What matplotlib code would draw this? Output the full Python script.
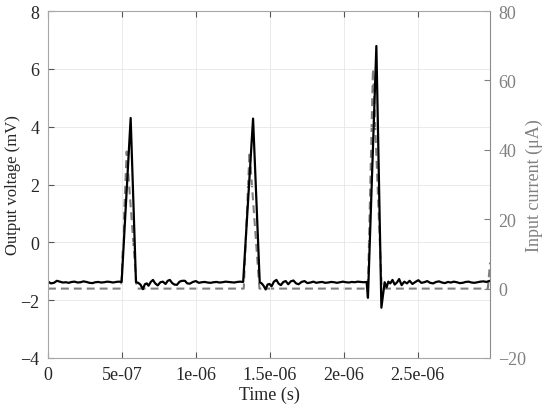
import numpy as np
import matplotlib
matplotlib.use('Agg')
import matplotlib.pyplot as plt

plt.rcParams['font.family'] = ['Liberation Serif', 'DejaVu Serif']

# output voltage (black, left axis): time in ns, value in mV
volt_t_ns = [0, 20, 40, 60, 80, 100, 120, 140, 160, 180, 200, 220, 240, 260, 280,
             300, 320, 340, 360, 380, 400, 420, 440, 460, 480, 498,
             559, 595,
             610, 625, 642, 655, 668, 680, 695, 710, 725, 742, 760, 777, 795, 810,
             824, 840, 855, 872, 890, 908, 926, 942, 959, 980, 1000, 1020, 1040,
             1060, 1080, 1100, 1120, 1140, 1160, 1180, 1200, 1220, 1240, 1260,
             1280, 1300, 1320,
             1387, 1432,
             1445, 1458, 1472, 1485, 1498, 1512, 1528, 1545, 1560, 1575, 1592,
             1608, 1625, 1642, 1660, 1678, 1695, 1715, 1735, 1755, 1775, 1795,
             1815, 1835, 1855, 1875, 1895, 1915, 1935, 1955, 1975, 1995, 2015,
             2035, 2055, 2075, 2095, 2115, 2135, 2155,
             2164, 2221, 2255, 2277,
             2290, 2302, 2315, 2330, 2345, 2360, 2375, 2392, 2410, 2428, 2446,
             2465, 2485, 2505, 2525, 2545, 2565, 2585, 2605, 2625, 2645, 2665,
             2685, 2705, 2725, 2745, 2765, 2785, 2805, 2825, 2845, 2865, 2885,
             2905, 2925, 2945, 2965, 2990]
volt_mv = [-1.36, -1.42, -1.40, -1.33, -1.36, -1.39, -1.38, -1.40, -1.37, -1.36,
           -1.39, -1.38, -1.35, -1.37, -1.40, -1.41, -1.38, -1.37, -1.39, -1.38,
           -1.36, -1.37, -1.39, -1.37, -1.36, -1.37,
           4.30, -1.38,
           -1.40, -1.46, -1.62, -1.45, -1.42, -1.50, -1.37, -1.30, -1.42, -1.49,
           -1.38, -1.36, -1.44, -1.33, -1.30, -1.41, -1.46, -1.47, -1.36, -1.33,
           -1.33, -1.42, -1.43, -1.37, -1.34, -1.40, -1.38, -1.37, -1.39, -1.40,
           -1.38, -1.37, -1.39, -1.38, -1.36, -1.37, -1.38, -1.39, -1.37, -1.36,
           -1.37,
           4.28, -1.38,
           -1.42, -1.50, -1.63, -1.46, -1.44, -1.52, -1.36, -1.30, -1.43, -1.48,
           -1.37, -1.34, -1.45, -1.35, -1.32, -1.42, -1.45, -1.37, -1.34, -1.41,
           -1.39, -1.36, -1.40, -1.38, -1.37, -1.40, -1.39, -1.37, -1.38, -1.40,
           -1.38, -1.36, -1.38, -1.39, -1.37, -1.38, -1.36, -1.37, -1.38, -1.37,
           -1.92, 6.79, -2.26, -1.38,
           -1.56, -1.36, -1.42, -1.30, -1.46, -1.39, -1.27, -1.48, -1.36, -1.42,
           -1.33, -1.44, -1.37, -1.31, -1.40, -1.38, -1.34, -1.40, -1.42, -1.37,
           -1.35, -1.39, -1.41, -1.37, -1.39, -1.36, -1.38, -1.41, -1.40, -1.37,
           -1.36, -1.39, -1.40, -1.38, -1.36, -1.35, -1.37, -1.33]

# input current (gray dashed, right axis): time in ns, value in uA
curr_t_ns = [0, 495, 532, 600, 1324, 1363, 1430, 2164, 2198, 2257, 2975, 2990]
curr_ua = [0, 0, 39.5, 0, 0, 39.5, 0, 0, 63.3, 0, 0, 7.5]

xtick_vals = [0, 5e-7, 1e-6, 1.5e-6, 2e-6, 2.5e-6]
xtick_labels = ['0', '5e-07', '1e-06', '1.5e-06', '2e-06', '2.5e-06']
left_ticks = [-4, -2, 0, 2, 4, 6, 8]
right_ticks = [-20, 0, 20, 40, 60, 80]

tv = np.array(volt_t_ns) * 1e-9
tc = np.array(curr_t_ns) * 1e-9

fig = plt.figure(figsize=(5.5, 4.1), dpi=100)
ax = fig.add_axes([0.0873, 0.1244, 0.8037, 0.8463])
ax2 = ax.twinx()

ax2.plot(tc, curr_ua, color='#7f7f7f', lw=1.5, linestyle=(0, (3.8, 2.4)))
ax.plot(tv, volt_mv, color='black', lw=1.6)

ax.set_zorder(ax2.get_zorder() + 1)
ax.patch.set_visible(False)

ax.set_xlim(0, 2.99e-6)
ax.set_ylim(-4, 8)
ax2.set_ylim(-20, 80)
ax.set_xticks(xtick_vals)
ax.set_xticklabels(xtick_labels)
ax.set_yticks(left_ticks)
ax2.set_yticks(right_ticks)

ax.grid(True, color='#e6e6e6', lw=0.6)
ax.set_axisbelow(True)

spine_col = '#a6a6a6'
for s in ['left', 'bottom', 'top']:
    ax.spines[s].set_color(spine_col)
ax.spines['right'].set_visible(False)
for s in ['left', 'bottom', 'top']:
    ax2.spines[s].set_visible(False)
ax2.spines['right'].set_color('#8c8c8c')

ax.tick_params(direction='in', length=4, width=0.8, color='#555555',
               top=True, labelsize=13, labelcolor='#262626', pad=6)
ax2.tick_params(direction='in', length=4, width=0.8, color='#808080',
                labelsize=13, labelcolor='#808080', pad=6)

ax.set_xlabel('Time (s)', fontsize=13, color='#262626')
ax.set_ylabel('Output voltage (mV)', fontsize=12, color='#262626')
ax2.set_ylabel('Input current (μA)', fontsize=13, color='#808080')
ax.xaxis.set_label_coords(0.5, -0.081)
ax.yaxis.set_label_coords(-0.061, 0.5)
ax2.yaxis.set_label_coords(1.081, 0.5)

fig.savefig('out.png', dpi=100)
